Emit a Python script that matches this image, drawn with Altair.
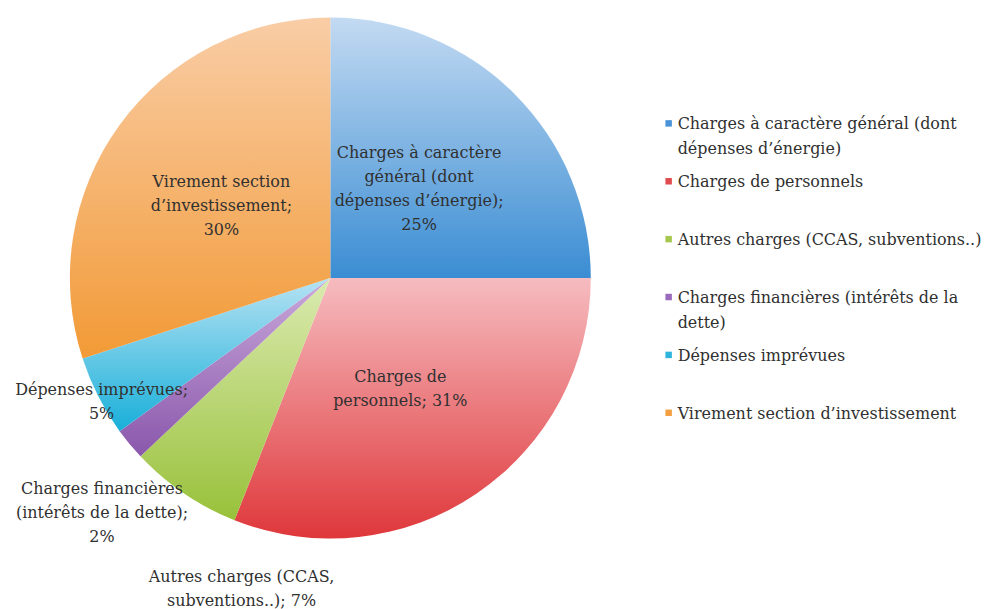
import math
import altair as alt
import pandas as pd

# ---- data ----
categories = [
    "Charges à caractère général (dont dépenses d’énergie)",
    "Charges de personnels",
    "Autres charges (CCAS, subventions..)",
    "Charges financières (intérêts de la dette)",
    "Dépenses imprévues",
    "Virement section d’investissement",
]
values = [25, 31, 7, 2, 5, 30]
pie_labels = [
    "Charges à caractère\ngénéral (dont\ndépenses d’énergie);\n25%",
    "Charges de\npersonnels; 31%",
    "Autres charges (CCAS,\nsubventions..); 7%",
    "Charges financières\n(intérêts de la dette);\n2%",
    "Dépenses imprévues;\n5%",
    "Virement section\nd’investissement;\n30%",
]
legend_labels = [
    "Charges à caractère général (dont\ndépenses d’énergie)",
    "Charges de personnels",
    "Autres charges (CCAS, subventions..)",
    "Charges financières (intérêts de la\ndette)",
    "Dépenses imprévues",
    "Virement section d’investissement",
]

# ---- styles / layout ----
grad_top = ["#c3daf2", "#f6bcc0", "#dbeab0", "#c9a9da", "#b6e2f3", "#f9cda6"]
grad_bot = ["#3a8dd3", "#df373a", "#98c13a", "#8a57ac", "#18afd9", "#f29a36"]
legend_colors = ["#4a93d8", "#e04b4e", "#a6c84e", "#9a6bbd", "#2fb5dd", "#f49f42"]
FONT = "DejaVu Serif"
TXT = "#303030"
R = 261
# label placement per slice: (radius, dx, dy)
label_place = {
    0: (130, -3, -33),
    1: (130, -3, -8),
    2: (290, 74, 60),
    3: (297, 0, 22),
    4: (255, -2, -4),
    5: (130, -4, -20),
}

df = pd.DataFrame({
    "cat": categories,
    "value": values,
    "order": list(range(len(categories))),
    "label": pie_labels,
    "legend": legend_labels,
})

theta_scale = alt.Scale(domain=[0, 100], range=[0, 2 * math.pi])

base = (
    alt.Chart(df)
    .transform_window(end="sum(value)", sort=[alt.SortField("order")], frame=[None, 0])
    .transform_calculate(start="datum.end - datum.value", mid="datum.end - datum.value / 2")
)

layers = []
for i in range(len(categories)):
    grad = alt.Gradient(
        gradient="linear", x1=0, y1=0, x2=0, y2=1,
        stops=[alt.GradientStop(color=grad_top[i], offset=0),
               alt.GradientStop(color=grad_bot[i], offset=1)],
    )
    layers.append(
        base.transform_filter(alt.datum.order == i)
        .mark_arc(outerRadius=R, fill=grad, stroke=None)
        .encode(theta=alt.Theta("start:Q", scale=theta_scale), theta2="end:Q")
    )

text_kw = dict(font=FONT, fontSize=16, color=TXT, lineBreak="\n", lineHeight=24,
               align="center", baseline="middle")

for i, (rad, dx, dy) in label_place.items():
    layers.append(
        base.transform_filter(alt.datum.order == i)
        .mark_text(radius=rad, dx=dx, dy=dy, **text_kw)
        .encode(theta=alt.Theta("mid:Q", scale=theta_scale), text="label:N")
    )

pie = alt.layer(*layers).properties(width=646, height=540)

ypos = alt.Y("cat:N", sort=categories, axis=None,
             scale=alt.Scale(type="point", range=[115, 405], padding=0))
leg_sq = alt.Chart(df).mark_square(size=42, opacity=1).encode(
    x=alt.value(16), y=ypos,
    color=alt.Color("cat:N", scale=alt.Scale(domain=categories, range=legend_colors), legend=None),
)
leg_tx = alt.Chart(df).mark_text(
    font=FONT, fontSize=16, color=TXT, lineBreak="\n", lineHeight=25,
    align="left", baseline="top", dy=-7,
).encode(x=alt.value(25), y=ypos, text="legend:N")
legend = alt.layer(leg_sq, leg_tx).properties(width=320, height=540)

chart = (
    alt.hconcat(pie, legend, spacing=0)
    .properties(padding=0)
    .configure_view(stroke=None)
)

chart.save("out.html", embed_options={"renderer": "svg", "actions": False})
